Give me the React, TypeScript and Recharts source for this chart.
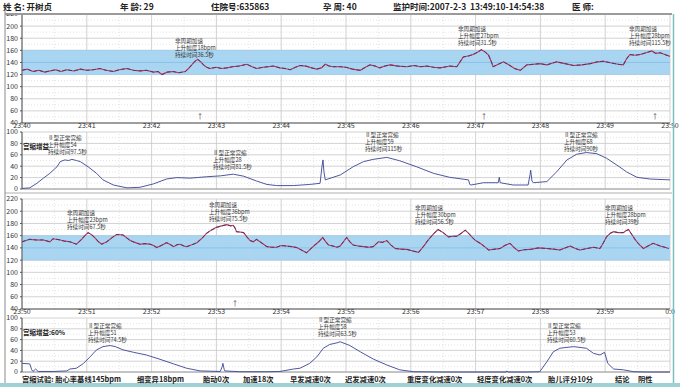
import React from 'react';
import { LineChart, Line, XAxis, YAxis, CartesianGrid, ReferenceArea, ReferenceLine } from 'recharts';

const FONT = '"Noto Sans CJK SC", "Noto Sans", sans-serif';

// ---- axes ----
const minuteTicks = [0, 1, 2, 3, 4, 5, 6, 7, 8, 9, 10];
const timeLabelsA = ['23:40', '23:41', '23:42', '23:43', '23:44', '23:45', '23:46', '23:47', '23:48', '23:49', '23:50'];
const timeLabelsB = ['23:50', '23:51', '23:52', '23:53', '23:54', '23:55', '23:56', '23:57', '23:58', '23:59', '0:0'];
const fhrTicks = [40, 60, 80, 100, 120, 140, 160, 180, 200, 220];
const fhrMinor = [50, 70, 90, 110, 130, 150, 170, 190, 210];
const ucTicks = [0, 20, 40, 60, 80, 100];
const ucMinor = [10, 30, 50, 70, 90];
const minuteMinor = [0.5, 1.5, 2.5, 3.5, 4.5, 5.5, 6.5, 7.5, 8.5, 9.5];

// ---- panel 1: fetal heart rate 23:40-23:50 ----
const fhrATime = [0, 0.08, 0.17, 0.26, 0.35, 0.43, 0.52, 0.6, 0.69, 0.8, 0.9, 1.0, 1.1, 1.2, 1.3, 1.41, 1.5, 1.62, 1.72, 1.82, 1.92, 2.03, 2.1, 2.16, 2.24, 2.33, 2.42, 2.52, 2.57, 2.62, 2.67, 2.71, 2.76, 2.8, 2.85, 2.9, 3.0, 3.08, 3.16, 3.25, 3.35, 3.47, 3.55, 3.62, 3.72, 3.8, 3.88, 3.98, 4.06, 4.14, 4.22, 4.29, 4.38, 4.47, 4.55, 4.62, 4.68, 4.74, 4.8, 4.91, 5.0, 5.1, 5.22, 5.3, 5.37, 5.45, 5.52, 5.6, 5.68, 5.8, 5.94, 6.05, 6.15, 6.25, 6.35, 6.45, 6.55, 6.6, 6.71, 6.76, 6.81, 6.9, 6.96, 7.03, 7.09, 7.15, 7.2, 7.24, 7.27, 7.35, 7.43, 7.53, 7.6, 7.69, 7.79, 7.9, 7.99, 8.1, 8.25, 8.38, 8.51, 8.64, 8.77, 8.88, 8.97, 9.1, 9.2, 9.28, 9.33, 9.38, 9.46, 9.54, 9.63, 9.72, 9.78, 9.85, 9.92, 10.0];
const fhrAValue = [127, 129, 125, 127, 124, 126, 128, 125, 128, 126, 129, 127, 128, 130, 127, 125, 128, 130, 127, 126, 127, 124, 125, 120, 124, 125, 123, 125, 130, 136, 142, 145, 141, 136, 132, 130, 132, 130, 131, 133, 134, 137, 133, 130, 132, 133, 134, 131, 130, 128, 132, 135, 134, 131, 129, 131, 137, 134, 133, 133, 132, 129, 127, 132, 136, 134, 131, 134, 136, 134, 133, 135, 133, 134, 132, 131, 133, 134, 133, 141, 149, 151, 153, 157, 161, 157, 152, 142, 133, 137, 141, 135, 130, 127, 136, 137, 138, 136, 141, 138, 135, 136, 138, 141, 142, 139, 137, 136, 146, 153, 152, 153, 156, 159, 155, 156, 153, 150];

// ---- panel 2: uterine contraction 23:40-23:50 ----
const ucATime = [0, 0.12, 0.23, 0.33, 0.43, 0.54, 0.59, 0.66, 0.72, 0.77, 0.84, 0.9, 1.02, 1.15, 1.25, 1.41, 1.62, 1.82, 2.03, 2.23, 2.39, 2.59, 2.85, 3.06, 3.26, 3.42, 3.62, 3.78, 3.93, 4.19, 4.44, 4.6, 4.63, 4.645, 4.66, 4.68, 4.8, 4.91, 5.11, 5.27, 5.42, 5.63, 5.83, 6.09, 6.35, 6.6, 6.89, 6.91, 6.93, 7.12, 7.35, 7.365, 7.38, 7.58, 7.81, 7.84, 7.85, 7.87, 7.89, 8.1, 8.25, 8.41, 8.56, 8.71, 8.87, 9.02, 9.18, 9.33, 9.49, 9.69, 10];
const ucAValue = [1, 2, 10, 19, 27.5, 39, 48, 51, 50, 52, 50, 48, 39, 27.5, 16, 7, 2, 3, 9, 17.5, 20, 19, 21.5, 23, 26, 22.5, 14, 8, 6, 6, 8, 10, 40, 51, 30, 16, 20.5, 24.5, 39, 48, 52, 55.5, 49.5, 39, 27.5, 20.5, 16, 8, 7, 11, 11, 20.5, 11, 7, 7, 25, 33, 14, 11, 13, 30, 51, 61, 64, 62, 54, 42, 30, 20.5, 17.5, 16];

// ---- panel 3: fetal heart rate 23:50-24:00 ----
const fhrBTime = [0, 0.12, 0.22, 0.33, 0.43, 0.48, 0.59, 0.66, 0.74, 0.84, 0.92, 0.97, 1.02, 1.08, 1.13, 1.18, 1.23, 1.31, 1.38, 1.46, 1.56, 1.62, 1.67, 1.74, 1.82, 1.9, 1.98, 2.03, 2.08, 2.15, 2.23, 2.28, 2.34, 2.39, 2.44, 2.5, 2.54, 2.62, 2.7, 2.78, 2.85, 2.92, 3.0, 3.08, 3.16, 3.22, 3.26, 3.29, 3.31, 3.36, 3.42, 3.47, 3.52, 3.57, 3.62, 3.7, 3.78, 3.85, 3.93, 4.0, 4.08, 4.16, 4.24, 4.32, 4.39, 4.45, 4.52, 4.58, 4.64, 4.68, 4.73, 4.8, 4.86, 4.91, 4.96, 5.01, 5.06, 5.11, 5.19, 5.27, 5.35, 5.42, 5.5, 5.56, 5.63, 5.69, 5.76, 5.85, 5.94, 6.03, 6.12, 6.2, 6.27, 6.35, 6.42, 6.5, 6.58, 6.65, 6.71, 6.78, 6.84, 6.9, 6.94, 7.0, 7.07, 7.14, 7.2, 7.3, 7.38, 7.45, 7.53, 7.6, 7.66, 7.75, 7.84, 7.97, 8.1, 8.2, 8.3, 8.38, 8.46, 8.54, 8.61, 8.72, 8.82, 8.92, 8.97, 9.02, 9.08, 9.13, 9.2, 9.28, 9.32, 9.36, 9.41, 9.46, 9.52, 9.59, 9.66, 9.74, 9.8, 9.85, 9.92, 9.98];
const fhrBValue = [150, 154, 153, 153, 150, 155, 153, 151, 150, 146, 154, 160, 165, 161, 156, 150, 146, 150, 156, 162, 161, 156, 152, 149, 146, 147, 146, 144, 140.5, 144, 148.5, 146, 142, 145, 146, 143, 142, 145, 148.5, 156, 164, 169, 173.6, 176, 178, 176, 177, 172, 166.5, 166, 165, 158, 152, 150, 154, 148, 142, 141, 141, 144, 143, 142, 140.5, 136, 132, 138, 144.7, 150, 157, 151, 144.7, 143, 141, 143, 150, 157, 150, 144.7, 143, 142, 141, 142, 150, 149, 152, 145, 139, 138, 137.5, 135, 132.7, 143, 153, 163, 170, 165, 158, 159, 159, 164, 169, 163, 158, 152, 147.5, 142, 136.5, 138, 139, 144, 147.5, 140, 135, 137, 137.5, 140, 139, 138, 136.5, 140, 143, 139, 136.5, 139, 141, 139, 148, 158, 164, 166.5, 165, 165, 168, 170, 162, 154, 146, 139, 143, 147.5, 145, 143, 141, 139];

// ---- panel 4: uterine contraction 23:50-24:00 ----
const ucBTime = [0, 0.12, 0.15, 0.17, 0.21, 0.25, 0.48, 0.69, 0.74, 0.84, 0.95, 1.05, 1.15, 1.25, 1.36, 1.44, 1.56, 1.72, 1.92, 2.13, 2.34, 2.54, 2.75, 3.06, 3.09, 3.1, 3.12, 3.13, 3.36, 3.78, 3.98, 4.19, 4.29, 4.44, 4.55, 4.65, 4.75, 4.86, 4.91, 5.06, 5.22, 5.42, 5.63, 5.83, 6.04, 6.45, 6.96, 7.47, 7.48, 7.5, 7.79, 7.99, 8.1, 8.2, 8.3, 8.51, 8.71, 8.82, 8.92, 8.99, 9.04, 9.13, 9.28, 9.44, 9.64, 10];
const ucBValue = [16, 15, 4, 1, 5.5, 1, 1, 2, 5.5, 7, 16, 28, 41, 47, 49, 47, 41, 36.5, 31.5, 23.5, 15, 7, 2, 1, 10, 16, 5, 2, 0.5, 0.5, 1, 5.5, 7, 16, 28, 44, 51, 54, 56, 49, 37.5, 24, 13, 4, 0.5, 0, 0, 0, 2, 0, 0, 0.5, 19, 37.5, 44, 47, 44, 34.5, 31.5, 36.5, 16, 5.5, 4, 0.5, 0, 0];

const build = (t: number[], v: number[]) => t.map((x, i) => ({ t: x, v: v[i] }));

// ---- texts ----
const headerItems: [number, string][] = [
  [3, '姓 名: 开树贞'],
  [120, '年 龄: 29'],
  [211, '住院号:635863'],
  [323, '孕 周: 40'],
  [393, '监护时间:2007-2-3  13:49:10-14:54:38'],
  [572, '医 师:'],
];

const notes: { x: number; y: number; lines: string[] }[] = [
  { x: 175, y: 43, lines: ['非周期加速', '上升幅度18bpm', '持续时间36.5秒'] },
  { x: 458, y: 31, lines: ['非周期加速', '上升幅度27bpm', '持续时间31.5秒'] },
  { x: 629, y: 31, lines: ['非周期加速', '上升幅度28bpm', '持续时间115.5秒'] },
  { x: 48, y: 140, lines: ['Ⅱ型正常宫缩', '上升幅度54', '持续时间97.5秒'] },
  { x: 213, y: 155, lines: ['Ⅱ型正常宫缩', '上升幅度28', '持续时间81.5秒'] },
  { x: 365, y: 137, lines: ['Ⅱ型正常宫缩', '上升幅度59', '持续时间115秒'] },
  { x: 564, y: 137, lines: ['Ⅱ型正常宫缩', '上升幅度68', '持续时间90秒'] },
  { x: 67, y: 215, lines: ['非周期加速', '上升幅度23bpm', '持续时间67.5秒'] },
  { x: 209, y: 207, lines: ['非周期加速', '上升幅度36bpm', '持续时间75.5秒'] },
  { x: 415, y: 210, lines: ['非周期加速', '上升幅度30bpm', '持续时间56.5秒'] },
  { x: 605, y: 210, lines: ['非周期加速', '上升幅度28bpm', '持续时间39秒'] },
  { x: 88, y: 328, lines: ['Ⅱ型正常宫缩', '上升幅度51', '持续时间74.5秒'] },
  { x: 318, y: 322, lines: ['Ⅱ型正常宫缩', '上升幅度58', '持续时间63.5秒'] },
  { x: 547, y: 328, lines: ['Ⅱ型正常宫缩', '上升幅度53', '持续时间60.5秒'] },
];

const gainLabels: [number, number, string][] = [
  [23, 149, '宫缩增益'],
  [23, 335, '宫缩增益:60%'],
];

const marks: [number, number][] = [[200, 119], [484, 119], [655, 119], [235, 306]];

const footerItems: [number, string][] = [
  [22, '宫缩试验: 胎心率基线145bpm'],
  [137, '细变异18bpm'],
  [203, '胎动0次'],
  [243, '加速18次'],
  [290, '早发减速0次'],
  [345, '迟发减速0次'],
  [407, '重度变化减速0次'],
  [477, '轻度变化减速0次'],
  [548, '胎儿评分10分'],
  [615, '结论'],
  [638, '阴性'],
];

type PanelProps = {
  plotTop: number;
  plotBottom: number;
  kind: 'fhr' | 'uc';
  data: { t: number; v: number }[];
  labels?: string[];
};

function Panel({ plotTop, plotBottom, kind, data, labels }: PanelProps) {
  const isFhr = kind === 'fhr';
  const bottomPad = labels ? 0 : 5;
  const height = plotBottom + (labels ? 14 : 0) + bottomPad;
  const ticks = isFhr ? fhrTicks : ucTicks;
  const minor = isFhr ? fhrMinor : ucMinor;
  return (
    <div style={{ position: 'absolute', left: 0, top: 0 }}>
      <LineChart width={680} height={height} data={data} margin={{ top: plotTop, right: 10, bottom: bottomPad, left: 0 }}>
        <CartesianGrid stroke="#c6c6c6" strokeWidth={0.8} />
        {isFhr && <ReferenceArea y1={120} y2={160} fill="#a8d5f1" fillOpacity={1} stroke="none" />}
        {minor.map((y) => (
          <ReferenceLine key={'my' + y} y={y} stroke="#d2d2d2" strokeWidth={0.6} strokeDasharray="1 2" />
        ))}
        {minuteMinor.map((x) => (
          <ReferenceLine key={'mx' + x} x={x} stroke="#d2d2d2" strokeWidth={0.6} strokeDasharray="1 2" />
        ))}
        {isFhr && <ReferenceLine y={140} stroke="#86bde3" strokeWidth={0.8} />}
        {isFhr && <ReferenceLine y={120} stroke="#9cc9e8" strokeWidth={0.6} />}
        {isFhr && <ReferenceLine y={160} stroke="#9cc9e8" strokeWidth={0.6} />}
        {!isFhr && <ReferenceLine y={0} stroke="#8a8a8a" strokeWidth={0.8} />}
        <XAxis
          dataKey="t"
          type="number"
          domain={[0, 10]}
          ticks={minuteTicks}
          interval={0}
          hide={!labels}
          height={14}
          tickFormatter={(v: number) => (labels ? labels[v] : '')}
          tick={{ fontSize: 7, fill: '#333', fontFamily: FONT }}
          tickLine={false}
          tickSize={0}
          tickMargin={0}
          axisLine={{ stroke: '#555', strokeWidth: 1 }}
        />
        <YAxis
          type="number"
          domain={isFhr ? [40, 220] : [0, 100]}
          ticks={ticks}
          interval={0}
          width={22}
          tick={{ fontSize: 7, fill: '#333', fontFamily: FONT }}
          tickSize={2}
          tickMargin={2}
          tickLine={{ stroke: '#555' }}
          axisLine={{ stroke: '#555', strokeWidth: 1 }}
        />
        {isFhr ? (
          <Line dataKey="v" type="linear" stroke="#d8343c" strokeWidth={1.1} dot={false} isAnimationActive={false} />
        ) : null}
        <Line
          dataKey="v"
          type="linear"
          stroke={isFhr ? '#3d3a8a' : '#3b4493'}
          strokeWidth={isFhr ? 1 : 0.9}
          strokeDasharray={isFhr ? '4 2' : undefined}
          dot={false}
          isAnimationActive={false}
        />
      </LineChart>
    </div>
  );
}

export default function App() {
  return (
    <div style={{ position: 'absolute', left: 0, top: 0, width: 680, height: 387, background: '#fff', overflow: 'hidden', fontFamily: FONT }}>
      <Panel plotTop={14} plotBottom={123} kind="fhr" data={build(fhrATime, fhrAValue)} labels={timeLabelsA} />
      <Panel plotTop={132} plotBottom={189} kind="uc" data={build(ucATime, ucAValue)} />
      <Panel plotTop={199} plotBottom={309} kind="fhr" data={build(fhrBTime, fhrBValue)} labels={timeLabelsB} />
      <Panel plotTop={318} plotBottom={372} kind="uc" data={build(ucBTime, ucBValue)} />
      <svg width={680} height={387} style={{ position: 'absolute', left: 0, top: 0, pointerEvents: 'none' }}>
        <rect x={0} y={0} width={680} height={13} fill="#fff" />
        <line x1={5} y1={14} x2={672} y2={14} stroke="#9a9a9a" strokeWidth={2} />
        <line x1={5} y1={193} x2={672} y2={193} stroke="#b0b0b0" strokeWidth={1.2} />
        <line x1={5} y1={10} x2={5} y2={383} stroke="#8a8a8a" strokeWidth={1} />
        <line x1={673.5} y1={14} x2={673.5} y2={383} stroke="#7fbfc2" strokeWidth={1.5} />
        <rect x={0} y={383} width={680} height={4} fill="#9fd0d6" />
        {headerItems.map(([x, s]) => (
          <text key={s} x={x} y={10} fontSize={8.5} fontWeight={600} fill="#222" fontFamily={FONT} style={{ whiteSpace: 'pre' }}>
            {s}
          </text>
        ))}
        {notes.map((n, i) => (
          <text key={i} x={n.x} y={n.y} fontSize={5.6} fill="#333" fontFamily={FONT}>
            {n.lines.map((l, j) => (
              <tspan key={j} x={n.x} y={n.y + j * 6.8}>
                {l}
              </tspan>
            ))}
          </text>
        ))}
        {gainLabels.map(([x, y, s]) => (
          <text key={s} x={x} y={y} fontSize={6.5} fontWeight={600} fill="#222" fontFamily={FONT}>
            {s}
          </text>
        ))}
        {marks.map(([x, y], i) => (
          <text key={i} x={x} y={y} fontSize={7} fill="#444" textAnchor="middle" fontFamily={FONT}>
            ↑
          </text>
        ))}
        {footerItems.map(([x, s]) => (
          <text key={s} x={x} y={382} fontSize={7.3} fontWeight={600} fill="#222" fontFamily={FONT}>
            {s}
          </text>
        ))}
      </svg>
    </div>
  );
}
